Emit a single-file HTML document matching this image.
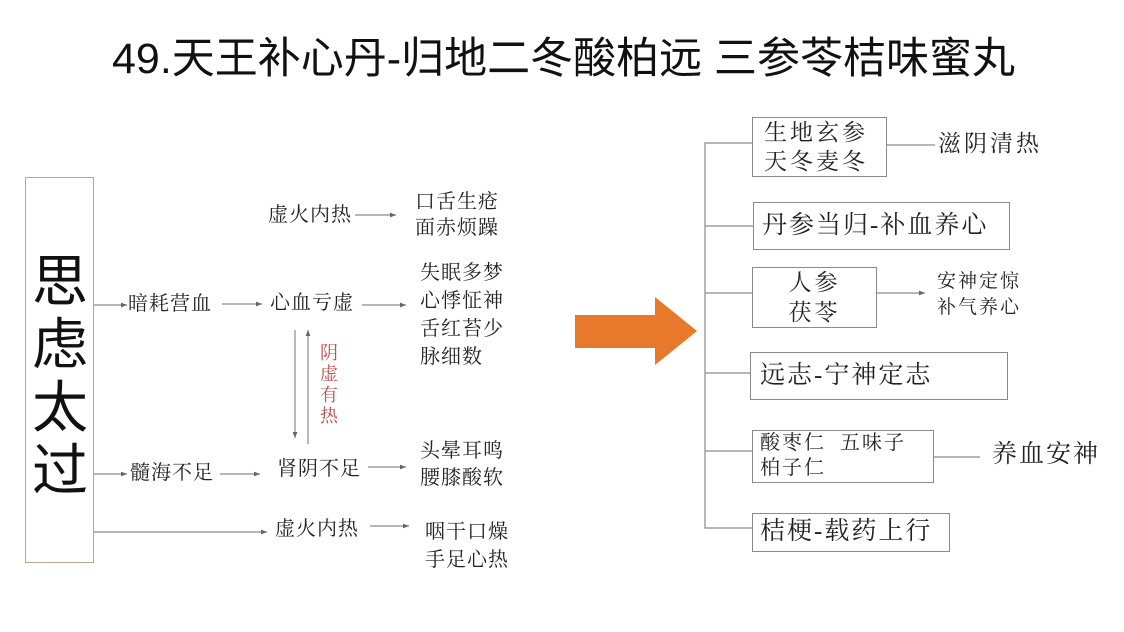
<!DOCTYPE html>
<html><head><meta charset="utf-8"><style>
body{margin:0;width:1124px;height:632px;background:#fff;position:relative;overflow:hidden;font-family:"Liberation Sans","Noto Sans CJK SC",sans-serif;color:#111}
.t{position:absolute;white-space:nowrap;line-height:1}
.s{font-family:"Liberation Serif","Noto Serif CJK SC",serif;color:#222;letter-spacing:1px}
.b{position:absolute;border:1.5px solid #8a8a8a;box-sizing:border-box}
svg{position:absolute;left:0;top:0}
</style></head><body>
<div class="t" style="left:112px;top:38px;font-size:43px;color:#111;">49.天王补心丹-归地二冬酸柏远 三参苓桔味蜜丸</div>

<div class="b" style="left:25px;top:177px;width:69px;height:386px;border-color:#b8a888"></div>
<div class="t" style="left:28px;top:246px;font-size:56px;line-height:63px;width:64px;text-align:center;white-space:normal;font-family:'Noto Sans CJK SC',sans-serif">思<br>虑<br>太<br>过</div>

<svg width="1124" height="632">
<defs><marker id="a" markerWidth="6" markerHeight="6" refX="5" refY="3" orient="auto"><path d="M0,1 L5,3 L0,5z" fill="#666"/></marker></defs>
<g stroke="#8a8a8a" stroke-width="1.2" fill="none">
<line x1="94" y1="305" x2="127" y2="305" marker-end="url(#a)"/>
<line x1="222" y1="304" x2="262" y2="304" marker-end="url(#a)"/>
<line x1="362" y1="305" x2="406" y2="305" marker-end="url(#a)"/>
<line x1="355" y1="215" x2="396" y2="215" marker-end="url(#a)"/>
<line x1="295" y1="330" x2="295" y2="438" marker-end="url(#a)"/>
<line x1="308" y1="444" x2="308" y2="330" marker-end="url(#a)"/>
<line x1="94" y1="474" x2="127" y2="474" marker-end="url(#a)"/>
<line x1="220" y1="474" x2="260" y2="474" marker-end="url(#a)"/>
<line x1="368" y1="467" x2="406" y2="467" marker-end="url(#a)"/>
<line x1="94" y1="532" x2="267" y2="532" marker-end="url(#a)"/>
<line x1="370" y1="526" x2="409" y2="526" marker-end="url(#a)"/>
<polyline points="752,143 705,143 705,528 752,528"/>
<line x1="705" y1="226" x2="753" y2="226"/>
<line x1="705" y1="293" x2="752" y2="293"/>
<line x1="705" y1="373" x2="750" y2="373"/>
<line x1="705" y1="451" x2="752" y2="451"/>
<line x1="887" y1="145" x2="935" y2="145"/>
<line x1="877" y1="293" x2="925" y2="293" marker-end="url(#a)"/>
<line x1="934" y1="457" x2="980" y2="457"/>
</g>
<polygon points="575,315 655,315 655,297 697,331 655,365 655,348 575,348" fill="#e8782a"/>
</svg>

<div class="t s" style="left:268px;top:205px;font-size:20px">虚火内热</div>
<div class="t s" style="left:415px;top:189px;font-size:20px;line-height:26px">口舌生疮<br>面赤烦躁</div>
<div class="t s" style="left:128px;top:294px;font-size:20px">暗耗营血</div>
<div class="t s" style="left:270px;top:293px;font-size:20px">心血亏虚</div>
<div class="t s" style="left:420px;top:259px;font-size:20px;line-height:28px">失眠多梦<br>心悸怔神<br>舌红苔少<br>脉细数</div>
<div class="t s" style="left:320px;top:343px;font-size:18px;line-height:21px;width:20px;white-space:normal;color:#c24a4a">阴虚有热</div>
<div class="t s" style="left:130px;top:463px;font-size:20px">髓海不足</div>
<div class="t s" style="left:277px;top:459px;font-size:20px">肾阴不足</div>
<div class="t s" style="left:420px;top:438px;font-size:20px;line-height:27px">头晕耳鸣<br>腰膝酸软</div>
<div class="t s" style="left:275px;top:519px;font-size:20px">虚火内热</div>
<div class="t s" style="left:425px;top:518px;font-size:20px;line-height:28px">咽干口燥<br>手足心热</div>

<div class="b" style="left:752px;top:117px;width:135px;height:60px"></div>
<div class="t s" style="left:764px;top:118px;font-size:23px;line-height:29px;letter-spacing:3px">生地玄参<br>天冬麦冬</div>
<div class="t s" style="left:938px;top:132px;font-size:23px;letter-spacing:3px">滋阴清热</div>
<div class="b" style="left:753px;top:202px;width:257px;height:48px"></div>
<div class="t s" style="left:762px;top:213px;font-size:25px;letter-spacing:2px">丹参当归-补血养心</div>
<div class="b" style="left:752px;top:267px;width:125px;height:61px"></div>
<div class="t s" style="left:752px;top:268px;width:125px;text-align:center;font-size:23px;line-height:30px;letter-spacing:3px">人参<br>茯苓</div>
<div class="t s" style="left:937px;top:269px;font-size:19px;line-height:26px;letter-spacing:2px">安神定惊<br>补气养心</div>
<div class="b" style="left:750px;top:352px;width:258px;height:48px"></div>
<div class="t s" style="left:760px;top:363px;font-size:25px;letter-spacing:2px">远志-宁神定志</div>
<div class="b" style="left:752px;top:430px;width:182px;height:53px"></div>
<div class="t s" style="left:760px;top:431px;font-size:20px;line-height:25px;letter-spacing:2px">酸枣仁&nbsp;&nbsp;五味子<br>柏子仁</div>
<div class="t s" style="left:992px;top:442px;font-size:25px;letter-spacing:2px">养血安神</div>
<div class="b" style="left:752px;top:513px;width:198px;height:39px"></div>
<div class="t s" style="left:760px;top:519px;font-size:25px;letter-spacing:2px">桔梗-载药上行</div>
</body></html>
